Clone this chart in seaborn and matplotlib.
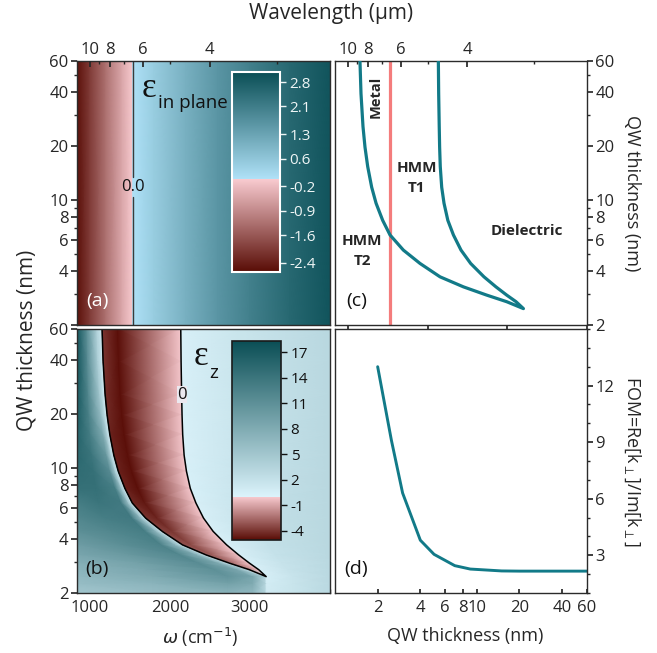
import numpy as np
import matplotlib
matplotlib.use("Agg")
import matplotlib.pyplot as plt
import seaborn as sns
from matplotlib.colors import LinearSegmentedColormap, Normalize
from matplotlib.ticker import FixedLocator, NullFormatter, FuncFormatter, MultipleLocator

W, H = 657, 653

# ---------------- data ----------------
# (a) in-plane permittivity, depends on frequency only (cm^-1)
W_INPLANE = [840, 1000, 1200, 1400, 1534, 1536, 1800, 2200, 2600, 3000, 3500, 4000]
EPS_INPLANE = [-2.6, -2.0, -1.25, -0.5, -0.02, 0.02, 0.45, 1.05, 1.6, 2.05, 2.55, 2.95]
W_ENZ = 1535          # where eps_in-plane crosses zero

# (b)/(c) pole and zero of eps_z versus QW thickness (nm)
D_CURVE = [60, 39.4, 25.8, 19.8, 15.4, 11.8, 9.6, 7.7, 6.38, 5.25, 4.42, 3.72, 3.27, 2.94, 2.70, 2.47]
W_POLE = [1153, 1166, 1191, 1216, 1250, 1300, 1355, 1438, 1530, 1697, 1906, 2157, 2450, 2742, 2993, 3203]
W_ZERO = [2136, 2140, 2147, 2152, 2160, 2178, 2207, 2255, 2325, 2420, 2541, 2708, 2858, 2993, 3110, 3203]
D_BELOW_TIP = [2.25, 2.0]

# eps_z along each thickness row (rows: D_CURVE + D_BELOW_TIP)
# cols: 4 left of pole, pole-, pole+, inside band, zero-, zero+, 2 right of zero
EPSZ = [
    [17.5, 11.0, 3.5, 2.0, 1.0, -4.0, -5.0, -0.1, 0.3, 1.6, 3.0],
    [17.5, 11.5, 4.0, 2.0, 1.0, -4.0, -5.0, -0.1, 0.3, 1.6, 3.0],
    [17.0, 12.0, 5.0, 2.2, 1.0, -4.2, -5.0, -0.1, 0.3, 1.6, 3.0],
    [16.5, 12.5, 6.0, 2.5, 1.0, -4.3, -5.0, -0.1, 0.3, 1.6, 3.0],
    [16.0, 13.0, 8.0, 3.0, 1.0, -4.5, -5.0, -0.1, 0.3, 1.7, 3.0],
    [15.5, 14.0, 10.0, 3.5, 1.0, -4.5, -5.0, -0.1, 0.3, 1.7, 3.0],
    [15.0, 14.5, 11.5, 4.0, 1.0, -4.5, -5.0, -0.1, 0.35, 1.8, 3.0],
    [14.5, 14.5, 13.0, 5.0, 1.0, -4.5, -5.0, -0.1, 0.35, 1.8, 3.0],
    [13.0, 14.0, 13.5, 5.5, 1.0, -4.3, -4.8, -0.1, 0.4, 1.9, 3.0],
    [12.0, 13.0, 13.5, 6.0, 1.2, -4.0, -4.5, -0.1, 0.4, 2.0, 3.0],
    [11.0, 12.0, 13.0, 6.5, 1.2, -3.6, -4.0, -0.1, 0.4, 2.0, 3.0],
    [9.5, 11.0, 12.5, 7.0, 1.5, -3.2, -3.5, -0.1, 0.4, 2.0, 3.0],
    [8.5, 10.0, 12.0, 7.5, 1.5, -2.8, -3.0, -0.1, 0.4, 1.9, 3.0],
    [7.5, 9.0, 11.5, 8.0, 1.8, -2.3, -2.5, -0.1, 0.4, 1.8, 2.9],
    [7.0, 8.5, 11.0, 8.5, 2.2, -1.8, -1.9, -0.1, 0.4, 1.8, 2.9],
    [6.5, 8.0, 10.5, 8.5, 3.0, 1.0, 0.8, 0.6, 0.5, 1.7, 2.9],
    [6.0, 7.0, 9.0, 8.0, 3.0, 2.0, 1.5, 1.0, 0.8, 1.6, 2.9],
    [5.0, 6.0, 7.0, 6.5, 3.0, 2.0, 1.6, 1.2, 1.0, 1.6, 2.9],
]

# (d) figure of merit
D_FOM = [2, 2.5, 3, 4, 5, 7, 9, 15, 20, 30, 40, 60]
FOM = [13.0, 9.1, 6.3, 3.8, 3.05, 2.45, 2.27, 2.17, 2.16, 2.16, 2.16, 2.16]

# ticks
D_TICKS = [2, 4, 6, 8, 10, 20, 40, 60]
D_MINOR = [3, 5, 7, 9, 30, 50]
WL_TICKS = [10, 8, 6, 4]
WL_MINOR = [9, 7, 5, 3]
CB_A_TICKS = [2.8, 2.1, 1.3, 0.6, -0.2, -0.9, -1.6, -2.4]
CB_B_TICKS = [17, 14, 11, 8, 5, 2, -1, -4]

W_MIN, W_MAX = 840, 4000
TEAL = '#127a88'

sns.set_theme(style="ticks")
plt.rcParams['font.family'] = ['Open Sans', 'DejaVu Sans']
plt.rcParams['mathtext.fontset'] = 'dejavusans'
plt.rcParams['axes.linewidth'] = 1.0
plt.rcParams['axes.edgecolor'] = '#2b2b2b'


def box(x0, y0, x1, y1):
    return [x0 / W, 1 - y1 / H, (x1 - x0) / W, (y1 - y0) / H]


def ftext(x, y, s, **kw):
    fig.text(x / W, 1 - y / H, s, **kw)


def two_sided(p0, pos_low):
    return LinearSegmentedColormap.from_list(
        'eps', [(0, '#580c05'), (p0, '#f8cacf'), (p0, pos_low), (1, '#0a4e55')], N=1024)


def thickness_axis(ax, side, drop=()):
    ax.set_yscale('log')
    ax.set_ylim(2, 60)
    ax.yaxis.set_major_locator(FixedLocator(D_TICKS))
    ax.yaxis.set_minor_locator(FixedLocator(D_MINOR))
    ax.yaxis.set_major_formatter(FuncFormatter(lambda v, p: '' if v in drop else f'{v:g}'))
    ax.yaxis.set_minor_formatter(NullFormatter())
    if side == 'right':
        ax.yaxis.tick_right()
    ax.tick_params(axis='y', which='both', direction='out', labelsize=12, pad=2, color='#2b2b2b')
    ax.tick_params(axis='y', which='major', length=4)
    ax.tick_params(axis='y', which='minor', length=2.5)


def wavelength_axis(ax):
    top = ax.twiny()
    top.set_xlim(ax.get_xlim())
    top.set_xticks([1e4 / l for l in WL_TICKS])
    top.set_xticklabels([f'{l:g}' for l in WL_TICKS])
    top.xaxis.set_minor_locator(FixedLocator([1e4 / l for l in WL_MINOR]))
    top.xaxis.set_minor_formatter(NullFormatter())
    top.tick_params(axis='x', which='both', direction='in', labelsize=12, pad=2)
    top.tick_params(axis='x', which='major', length=4)
    top.tick_params(axis='x', which='minor', length=2.5)
    for s in top.spines.values():
        s.set_visible(False)
    return top


fig = plt.figure(figsize=(W / 100, H / 100), dpi=100)
ax_a = fig.add_axes(box(77, 61, 330, 325))
ax_b = fig.add_axes(box(77, 329, 330, 593))
ax_c = fig.add_axes(box(335, 61, 587, 325))
ax_d = fig.add_axes(box(335, 329, 587, 593))

# ---------------- (a) in-plane permittivity map ----------------
norm_a = Normalize(-2.66, 3.09)
cmap_a = two_sided(2.66 / 5.75, '#b0e2f8')
xa, ya = np.meshgrid(W_INPLANE, [2, 60])
mesh_a = ax_a.pcolormesh(xa, ya, np.vstack([EPS_INPLANE, EPS_INPLANE]),
                         shading='gouraud', cmap=cmap_a, norm=norm_a)
ax_a.plot([W_ENZ, W_ENZ], [2, 10.4], color='#3a3a3a', lw=1)
ax_a.plot([W_ENZ, W_ENZ], [13.5, 60], color='#3a3a3a', lw=1)
ax_a.text(W_ENZ, 11.8, '0.0', ha='center', va='center', fontsize=12, color='#111111')
ax_a.set_xlim(W_MIN, W_MAX)
thickness_axis(ax_a, 'left', drop=(2,))
ax_a.set_xticks(range(1000, 4000, 200))
ax_a.tick_params(axis='x', direction='in', length=3, labelbottom=False)
wavelength_axis(ax_a)
ax_a.text(0.08, 0.09, '(a)', transform=ax_a.transAxes, color='white', fontsize=14,
          ha='center', va='center')

cax_a = fig.add_axes(box(232, 72, 280, 272))
cb_a = fig.colorbar(mesh_a, cax=cax_a, ticks=CB_A_TICKS)
cb_a.set_ticklabels([f'{t:g}' for t in CB_A_TICKS])
cb_a.ax.tick_params(colors='#eef5f5', labelsize=11, length=4, width=1, pad=3)
cb_a.outline.set_edgecolor('white')
cb_a.outline.set_linewidth(1.5)

ftext(142, 97, 'ε', fontsize=25, family='Liberation Serif', color='#111111', va='baseline')
ftext(158, 108, 'in plane', fontsize=13.5, color='#111111', va='baseline')

# ---------------- (b) eps_z map ----------------
pole = np.array(W_POLE + [W_POLE[-1]] * len(D_BELOW_TIP), float)
zero = np.maximum(np.array(W_ZERO + [W_ZERO[-1]] * len(D_BELOW_TIP), float), pole + 8)
d_rows = np.array(D_CURVE + D_BELOW_TIP, float)
cols = np.column_stack([
    np.full_like(pole, W_MIN),
    W_MIN + 0.4 * (pole - W_MIN),
    W_MIN + 0.8 * (pole - W_MIN),
    W_MIN + 0.93 * (pole - W_MIN),
    pole - 1.5,
    pole + 1.5,
    pole + 0.2 * (zero - pole),
    zero - 1.5,
    zero + 1.5,
    zero + 0.4 * (W_MAX - zero),
    np.full_like(pole, W_MAX),
])
rows = np.repeat(d_rows[:, None], cols.shape[1], axis=1)
norm_b = Normalize(-5.1, 18.3)
cmap_b = two_sided(5.1 / 23.4, '#dbf3fb')
mesh_b = ax_b.pcolormesh(cols, rows, np.array(EPSZ), shading='gouraud', cmap=cmap_b, norm=norm_b)

path_w = np.concatenate([W_POLE, W_ZERO[::-1]])
path_d = np.concatenate([D_CURVE, D_CURVE[::-1]])
ax_b.plot(path_w, path_d, color='black', lw=1.1)
ax_b.text(2150, 25.8, '0', ha='center', va='center', fontsize=12, color='#111111',
          bbox=dict(fc='#ebe8ef', ec='none', pad=0.3))
ax_b.set_xlim(W_MIN, W_MAX)
thickness_axis(ax_b, 'left')
ax_b.set_xticks([1000, 2000, 3000])
ax_b.xaxis.set_minor_locator(MultipleLocator(200))
ax_b.tick_params(axis='x', which='both', direction='in', labelsize=12, pad=5)
ax_b.tick_params(axis='x', which='major', length=4)
ax_b.tick_params(axis='x', which='minor', length=3)
ax_b.text(0.08, 0.09, '(b)', transform=ax_b.transAxes, color='#111111', fontsize=14,
          ha='center', va='center')

cax_b = fig.add_axes(box(232, 341, 281, 540))
cb_b = fig.colorbar(mesh_b, cax=cax_b, ticks=CB_B_TICKS)
cb_b.set_ticklabels([f'{t:g}' for t in CB_B_TICKS])
cb_b.ax.tick_params(colors='#111111', labelsize=11, length=4, width=1, pad=3)
cb_b.outline.set_edgecolor('#1a1a1a')
cb_b.outline.set_linewidth(1.2)

ftext(194, 365, 'ε', fontsize=25, family='Liberation Serif', color='#111111', va='baseline')
ftext(209, 378, 'z', fontsize=13.5, color='#111111', va='baseline')

# ---------------- (c) phase diagram ----------------
ax_c.axvline(W_ENZ, color='#f47c7c', lw=2.3, zorder=2)
sns.lineplot(x=path_w, y=path_d, sort=False, estimator=None, color=TEAL, lw=2.3,
             ax=ax_c, zorder=3)
ax_c.set_xlim(W_MIN, W_MAX)
thickness_axis(ax_c, 'right')
ax_c.tick_params(axis='x', bottom=False, labelbottom=False)
ax_c.set_xlabel('')
ax_c.set_ylabel('')
wavelength_axis(ax_c)
ftext(376, 97, 'Metal', rotation=90, fontsize=10.5, weight='bold', ha='center', va='center')
ftext(417, 178, 'HMM\nT1', fontsize=11, weight='bold', ha='center', va='center', linespacing=1.55)
ftext(362, 251, 'HMM\nT2', fontsize=11, weight='bold', ha='center', va='center', linespacing=1.55)
ftext(527, 231, 'Dielectric', fontsize=11, weight='bold', ha='center', va='center')
ax_c.text(0.085, 0.09, '(c)', transform=ax_c.transAxes, color='#111111', fontsize=14,
          ha='center', va='center')

# ---------------- (d) figure of merit ----------------
sns.lineplot(x=D_FOM, y=FOM, color=TEAL, lw=2.1, ax=ax_d)
ax_d.set_xscale('log')
ax_d.set_xlim(1, 60)
ax_d.set_ylim(1, 15)
ax_d.xaxis.set_major_locator(FixedLocator(D_TICKS))
ax_d.xaxis.set_minor_locator(FixedLocator([]))
ax_d.xaxis.set_major_formatter(FuncFormatter(lambda v, p: f'{v:g}'))
ax_d.tick_params(axis='x', direction='in', length=3, labelsize=12, pad=5)
ax_d.yaxis.tick_right()
ax_d.set_yticks([3, 6, 9, 12])
ax_d.yaxis.set_minor_locator(MultipleLocator(1))
ax_d.tick_params(axis='y', which='both', direction='out', labelsize=12, pad=2)
ax_d.tick_params(axis='y', which='major', length=4)
ax_d.tick_params(axis='y', which='minor', length=2.5)
ax_d.set_xlabel('')
ax_d.set_ylabel('')
ax_d.text(0.085, 0.09, '(d)', transform=ax_d.transAxes, color='#111111', fontsize=14,
          ha='center', va='center')

# ---------------- figure labels ----------------
ftext(331, 14, 'Wavelength (μm)', fontsize=15, ha='center', va='center')
ftext(27, 340, 'QW thickness (nm)', fontsize=15, rotation=90, ha='center', va='center')
ftext(632, 193, 'QW thickness (nm)', fontsize=13, rotation=270, ha='center', va='center')
ftext(632, 461, r'FOM=Re[k$_\perp$]/Im[k$_\perp$]', fontsize=13, rotation=270,
      ha='center', va='center')
ftext(200, 637, r'$\omega$ (cm$^{-1}$)', fontsize=13, ha='center', va='center')
ftext(465, 636, 'QW thickness (nm)', fontsize=13, ha='center', va='center')

fig.savefig('out.png', dpi=100)
